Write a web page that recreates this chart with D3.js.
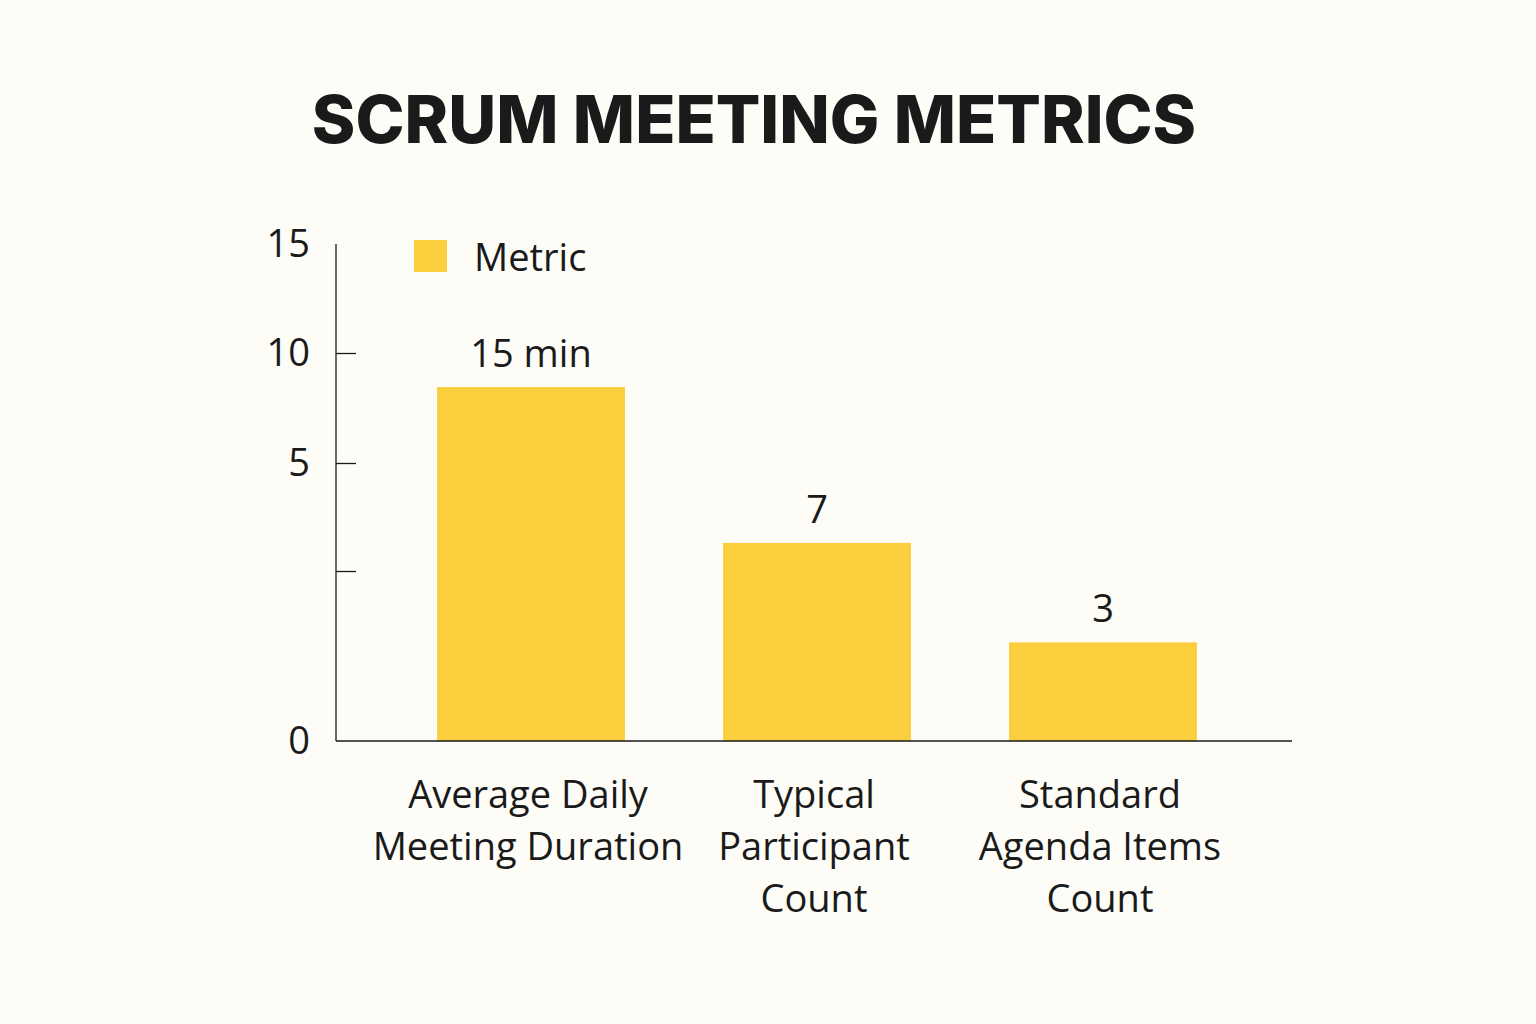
<!DOCTYPE html>
<html>
<head>
<meta charset="utf-8">
<script src="https://cdn.jsdelivr.net/npm/d3@7"></script>
<style>
  body { margin: 0; background: #fdfcf7; }
  svg { display: block; font-family: "Open Sans", "Noto Sans", sans-serif; }
</style>
</head>
<body>
<svg id="chart" width="1536" height="1024"></svg>
<script>
// data (bar heights in axis units)
const categories = [
    ["Average Daily", "Meeting Duration"],
    ["Typical", "Participant", "Count"],
    ["Standard", "Agenda Items", "Count"]
];
const values = [8.45, 3.15, 1.45];
const valueLabels = ["15 min", "7", "3"];
const tickValues = [0, 2.5, 5, 10, 15];
const tickLabels = ["0", "", "5", "10", "15"];

const svg = d3.select("#chart");
svg.append("rect").attr("width", 1536).attr("height", 1024).attr("fill", "#fdfcf7");

svg.append("text")
    .attr("x", 754).attr("y", 143)
    .attr("text-anchor", "middle")
    .attr("font-family", "Inter, 'DejaVu Sans', sans-serif")
    .attr("font-weight", 800)
    .attr("font-size", 66)
    .attr("fill", "#1a1a1a")
    .text("SCRUM MEETING METRICS");

// the axis in the picture is not evenly spaced, so a piecewise scale
const yScale = d3.scaleLinear()
    .domain(tickValues)
    .range([741, 571, 463, 353, 244]);

const xScale = d3.scaleBand()
    .domain(d3.range(categories.length))
    .range([388, 1246])
    .paddingInner(0.343)
    .paddingOuter(0.1715);

const chart = svg.append("g");

chart.selectAll("rect.bar")
    .data(values)
    .enter().append("rect")
    .attr("class", "bar")
    .attr("x", (d, i) => xScale(i))
    .attr("width", xScale.bandwidth())
    .attr("y", d => yScale(d))
    .attr("height", d => yScale(0) - yScale(d))
    .attr("fill", "#fccd3d");

chart.selectAll("text.val")
    .data(values)
    .enter().append("text")
    .attr("class", "val")
    .attr("x", (d, i) => xScale(i) + xScale.bandwidth() / 2)
    .attr("y", d => yScale(d) - 20)
    .attr("text-anchor", "middle")
    .attr("font-size", 38)
    .attr("fill", "#1a1a1a")
    .text((d, i) => valueLabels[i]);

// y axis
const yAxis = d3.axisRight(yScale)
    .tickValues(tickValues.slice(1, 4))
    .tickSize(20)
    .tickFormat("");
const yg = svg.append("g").attr("transform", "translate(336,0)").call(yAxis);
yg.select(".domain").attr("d", `M0,${yScale(15)}V${yScale(0)}`);
yg.selectAll("line, path").attr("stroke", "#1a1a1a").attr("stroke-width", 1.3);

svg.selectAll("text.tick")
    .data(tickValues)
    .enter().append("text")
    .attr("x", 310)
    .attr("y", d => yScale(d) + 13)
    .attr("text-anchor", "end")
    .attr("font-size", 38)
    .attr("fill", "#1a1a1a")
    .text((d, i) => tickLabels[i]);

// x axis baseline
svg.append("line")
    .attr("x1", 336).attr("x2", 1292)
    .attr("y1", yScale(0)).attr("y2", yScale(0))
    .attr("stroke", "#1a1a1a").attr("stroke-width", 1.5);

const cat = svg.selectAll("text.cat")
    .data(categories)
    .enter().append("text")
    .attr("class", "cat")
    .attr("text-anchor", "middle")
    .attr("font-size", 38)
    .attr("fill", "#1a1a1a");
cat.each(function (lines, i) {
    d3.select(this).selectAll("tspan")
        .data(lines)
        .enter().append("tspan")
        .attr("x", xScale(i) + xScale.bandwidth() / 2 - 3)
        .attr("y", (l, j) => 808 + j * 52)
        .text(l => l);
});

// legend
svg.append("rect").attr("x", 414).attr("y", 240).attr("width", 33).attr("height", 32).attr("fill", "#fccd3d");
svg.append("text").attr("x", 474).attr("y", 271)
    .attr("font-size", 38).attr("fill", "#1a1a1a").text("Metric");
</script>
</body>
</html>
